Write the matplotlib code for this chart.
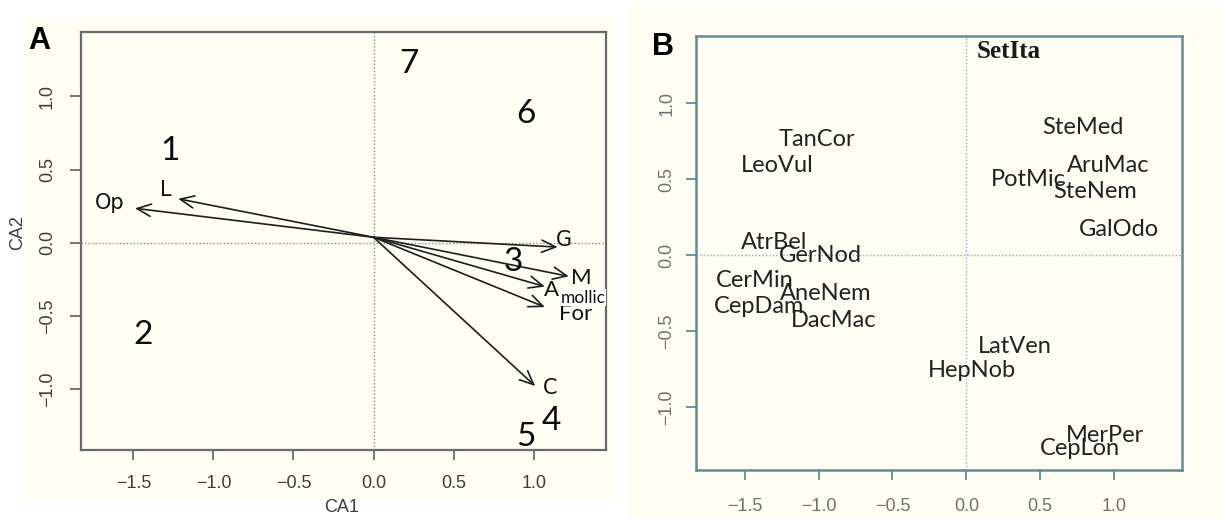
import matplotlib
matplotlib.use("Agg")
import matplotlib.pyplot as plt
from matplotlib.patches import Rectangle

# ---------------- data ----------------
# Panel A: environmental vectors (CA1, CA2 of arrow tips) and their labels
vec_names = ["Op", "L", "G", "M", "A", "For", "C"]
vec_x = [-1.49, -1.22, 1.15, 1.22, 1.07, 1.07, 1.01]
vec_y = [0.235, 0.30, -0.03, -0.23, -0.30, -0.44, -0.98]
vec_lab_x = [-1.65, -1.30, 1.19, 1.30, 1.11, 1.26, 1.10]
vec_lab_y = [0.27, 0.36, 0.02, -0.24, -0.32, -0.49, -0.99]
vec_origin = (0.0, 0.037)

# Panel A: site groups
site_names = ["1", "2", "3", "4", "5", "6", "7"]
site_x = [-1.27, -1.44, 0.87, 1.11, 0.95, 0.95, 0.22]
site_y = [0.63, -0.63, -0.13, -1.22, -1.33, 0.88, 1.22]

# Panel B: species scores
sp_names = ["SetIta", "SteMed", "TanCor", "LeoVul", "AruMac", "PotMic", "SteNem",
            "GalOdo", "AtrBel", "GerNod", "CerMin", "AneNem", "CepDam", "DacMac",
            "LatVen", "HepNob", "MerPer", "CepLon"]
sp_x = [0.29, 0.79, -1.01, -1.28, 0.96, 0.42, 0.87,
        1.03, -1.30, -0.99, -1.43, -0.95, -1.40, -0.90,
        0.33, 0.04, 0.94, 0.77]
sp_y = [1.34, 0.84, 0.76, 0.59, 0.59, 0.50, 0.42,
        0.17, 0.08, 0.00, -0.17, -0.25, -0.34, -0.43,
        -0.60, -0.76, -1.19, -1.27]

ticks = [-1.5, -1.0, -0.5, 0.0, 0.5, 1.0]
tick_labels = ["\u22121.5", "\u22121.0", "\u22120.5", "0.0", "0.5", "1.0"]
yticks = [-1.0, -0.5, 0.0, 0.5, 1.0]
ytick_labels = ["\u22121.0", "\u22120.5", "0.0", "0.5", "1.0"]

# ---------------- figure ----------------
W, H = 1223, 518
fig = plt.figure(figsize=(W / 100, H / 100), dpi=100)
fig.patch.set_facecolor("white")
CREAM = "#fffef3"


def box(x0, y0, x1, y1):
    """pixel box (top-left origin) -> figure fraction rect"""
    return [x0 / W, 1 - y1 / H, (x1 - x0) / W, (y1 - y0) / H]


for (x0, y0, x1, y1) in [(23, 17, 618, 500), (627, 6, 1223, 518)]:
    r = box(x0, y0, x1, y1)
    fig.add_artist(Rectangle((r[0], r[1]), r[2], r[3], transform=fig.transFigure,
                             facecolor=CREAM, edgecolor="none", zorder=0))

LAT = ["Lato", "DejaVu Sans"]

# ---------------- panel A ----------------
axA = fig.add_axes(box(81, 32, 606, 450))
axA.set_facecolor(CREAM)
axA.set_xlim(-1.827, 1.452)
axA.set_ylim(-1.417, 1.44)
specA = "#6a6a6a"
for s in axA.spines.values():
    s.set_color(specA)
    s.set_linewidth(1.6)
axA.axhline(0, color="#8a8a8a", ls=(0, (1, 1.5)), lw=1.0, zorder=1)
axA.axvline(0, color="#8a8a8a", ls=(0, (1, 1.5)), lw=1.0, zorder=1)
axA.set_xticks(ticks, tick_labels)
axA.set_yticks(yticks, ytick_labels)
axA.tick_params(axis="x", length=7, width=1.3, color=specA, labelsize=13,
                labelcolor="#3c3c3c", pad=11)
axA.tick_params(axis="y", length=8, width=1.3, color=specA, labelsize=13,
                labelcolor="#3c3c3c", pad=10, labelrotation=90)
for t in axA.get_yticklabels():
    t.set_va("center")
    t.set_family("Liberation Sans")
for t in axA.get_xticklabels():
    t.set_family("Liberation Sans")

for xe, ye in zip(vec_x, vec_y):
    axA.annotate("", xy=(xe, ye), xytext=vec_origin,
                 arrowprops=dict(arrowstyle="->,head_length=0.5,head_width=0.22",
                                 mutation_scale=20, color="#1e1e1e", lw=1.2,
                                 shrinkA=0, shrinkB=0), zorder=3)

for name, lx, ly in zip(vec_names, vec_lab_x, vec_lab_y):
    if name in ("Op", "L", "G", "C"):
        axA.text(lx, ly, name, ha="center", va="center", fontsize=15,
                 family="DejaVu Sans", color="#111111", zorder=4)
    else:
        axA.text(lx, ly, name, ha="center", va="center", fontsize=16,
                 family=LAT, color="#111111", zorder=4)
axA.text(1.309, -0.375, "mollic", ha="center", va="center", fontsize=12.5,
         family=LAT, color="#111111", zorder=4,
         bbox=dict(boxstyle="square,pad=0.05", facecolor="white", edgecolor="none"))

for name, sx, sy in zip(site_names, site_x, site_y):
    axA.text(sx, sy, name, ha="center", va="center", fontsize=24,
             family=LAT, color="#0a0a0a", zorder=4)

fig.text(342 / W, 1 - 507 / H, "CA1", ha="center", va="center", fontsize=13,
         family="Liberation Sans", color="#3c3c3c")
fig.text(18 / W, 1 - 233 / H, "CA2", ha="center", va="center", fontsize=13,
         family="Liberation Sans", color="#3c3c3c", rotation=90)
fig.text(39 / W, 1 - 41 / H, "A", ha="center", va="center", fontsize=22,
         family="Liberation Sans", weight="bold", color="black")

# ---------------- panel B ----------------
axB = fig.add_axes(box(696, 36, 1182, 470))
axB.set_facecolor(CREAM)
axB.set_xlim(-1.83, 1.46)
axB.set_ylim(-1.414, 1.442)
specB = "#5f8c95"
for s in axB.spines.values():
    s.set_color(specB)
    s.set_linewidth(1.8)
axB.axhline(0, color="#7fb3c8", ls=(0, (1, 1.5)), lw=1.0, zorder=1)
axB.axvline(0, color="#7fb3c8", ls=(0, (1, 1.5)), lw=1.0, zorder=1)
axB.set_xticks(ticks, tick_labels)
axB.set_yticks(yticks, ytick_labels)
axB.tick_params(axis="x", length=7, width=1.3, color=specB, labelsize=13,
                labelcolor="#707070", pad=13)
axB.tick_params(axis="y", length=7, width=1.3, color=specB, labelsize=13,
                labelcolor="#707070", pad=8, labelrotation=90)
for t in axB.get_yticklabels():
    t.set_va("center")
    t.set_family("Liberation Sans")
for t in axB.get_xticklabels():
    t.set_family("Liberation Sans")

for name, sx, sy in zip(sp_names, sp_x, sp_y):
    if name == "SetIta":
        axB.text(sx, sy, name, ha="center", va="center", fontsize=18,
                 family="Liberation Serif", weight="bold", color="#1a1a1a", zorder=4)
    else:
        axB.text(sx, sy, name, ha="center", va="center", fontsize=17,
                 family=LAT, color="#222222", zorder=4)

fig.text(663 / W, 1 - 47 / H, "B", ha="center", va="center", fontsize=22,
         family="Liberation Sans", weight="bold", color="black")

fig.savefig("out.png", dpi=100, facecolor="white")
